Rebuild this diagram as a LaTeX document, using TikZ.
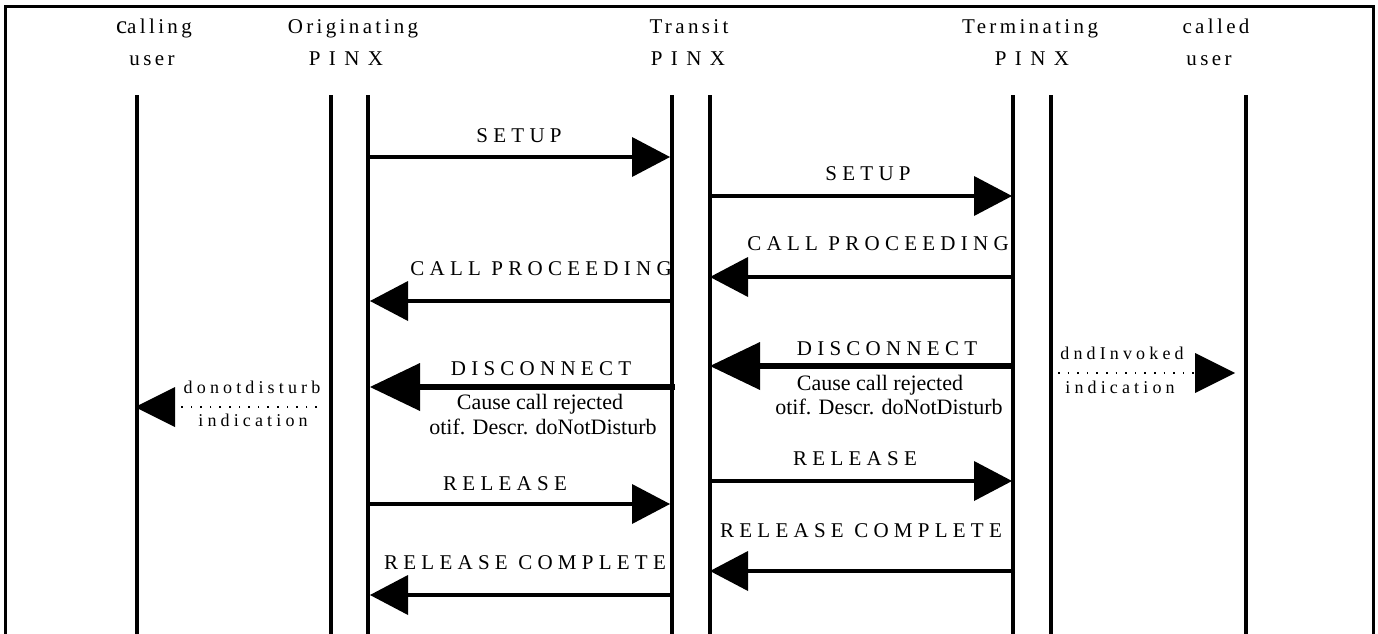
\documentclass[tikz,border=0pt]{standalone}
\usepackage{fontspec}
\setmainfont{Liberation Serif}
\newfontfamily\hdrfamily[LetterSpace=16]{Liberation Serif}
\newfontfamily\pinxfamily[LetterSpace=40]{Liberation Serif}
\newfontfamily\msgfamily[LetterSpace=25]{Liberation Serif}
\newfontfamily\smlfamily[LetterSpace=23]{Liberation Serif}
\usetikzlibrary{arrows.meta}
\begin{document}
\begin{tikzpicture}[x=1pt,y=-1pt,
  frame/.style={line width=3pt},
  life/.style={line width=4.5pt},
  msgline/.style={line width=4pt,-{Triangle[length=38pt,width=40pt,line width=0pt]}},
  discline/.style={line width=6.5pt,-{Triangle[length=50pt,width=48pt,line width=0pt]}},
  dotline/.style={line width=1.6pt,dash pattern=on 1.6pt off 8pt,-{Triangle[length=40pt,width=40pt,line width=0pt]}},
  hdr/.style={anchor=base,inner sep=0pt,font=\hdrfamily\fontsize{21}{21}\selectfont},
  pinx/.style={anchor=base,inner sep=0pt,font=\pinxfamily\fontsize{21}{21}\selectfont},
  msg/.style={anchor=base,inner sep=0pt,font=\msgfamily\fontsize{21}{21}\selectfont},
  note/.style={anchor=base,inner sep=0pt,font=\fontsize{22}{22}\selectfont},
  sml/.style={anchor=base,inner sep=0pt,font=\smlfamily\fontsize{18}{18}\selectfont}]
\useasboundingbox (0,0) rectangle (1378,634);
\fill[white] (0,0) rectangle (1378,634);
% frame
\draw[frame] (5,634) -- (5,7) -- (1373,7) -- (1373,634);
% headers
\node[hdr] (h1a) at (154,34) {{\fontsize{25}{25}\selectfont c}alling};
\node[hdr] (h1b) at (152,66) {user};
\node[hdr] (h2a) at (353,34) {Originating};
\node[pinx] (h2b) at (346,66) {PINX};
\node[hdr] (h3a) at (689,34) {Transit};
\node[pinx] (h3b) at (688,66) {PINX};
\node[hdr] (h4a) at (1030,34) {Terminating};
\node[pinx] (h4b) at (1032,66) {PINX};
\node[hdr] (h5a) at (1216,34) {called};
\node[hdr] (h5b) at (1209,66) {user};
% lifelines
\foreach \n/\x in {cu/137,oa/331,ob/368,ta/672,tb/710,ra/1013,rb/1051,du/1246}{
  \coordinate (\n top) at (\x,95);
  \coordinate (\n bot) at (\x,634);
  \draw[life] (\n top) -- (\n bot);
}
% message end points
\coordinate (m1s) at (368,157); \coordinate (m1e) at (670,157);
\coordinate (m2s) at (710,196); \coordinate (m2e) at (1012,196);
\coordinate (m3s) at (1015,277); \coordinate (m3e) at (710,277);
\coordinate (m4s) at (670,301); \coordinate (m4e) at (370,301);
\coordinate (m5s) at (1013,366); \coordinate (m5e) at (710,366);
\coordinate (m6s) at (675,387); \coordinate (m6e) at (370,387);
\coordinate (m7s) at (1058,373); \coordinate (m7e) at (1235,373);
\coordinate (m8s) at (317,407); \coordinate (m8e) at (135,407);
\coordinate (m9s) at (710,481); \coordinate (m9e) at (1012,481);
\coordinate (m10s) at (368,504); \coordinate (m10e) at (670,504);
\coordinate (m11s) at (1015,571); \coordinate (m11e) at (710,571);
\coordinate (m12s) at (670,595); \coordinate (m12e) at (370,595);
% connectors
\draw[msgline] (m1s) -- (m1e);
\draw[msgline] (m2s) -- (m2e);
\draw[msgline] (m3s) -- (m3e);
\draw[msgline] (m4s) -- (m4e);
\draw[discline] (m5s) -- (m5e);
\draw[discline] (m6s) -- (m6e);
\draw[dotline] (m7s) -- (m7e);
\draw[dotline] (m8s) -- (m8e);
\draw[msgline] (m9s) -- (m9e);
\draw[msgline] (m10s) -- (m10e);
\draw[msgline] (m11s) -- (m11e);
\draw[msgline] (m12s) -- (m12e);
% labels
\node[msg] (l1) at (519,142) {SETUP};
\node[msg] (l2) at (868,180) {SETUP};
\node[msg] (l3) at (878,250) {CALL PROCEEDING};
\node[msg] (l4) at (541,275) {CALL PROCEEDING};
\node[msg] (l5) at (887,355) {DISCONNECT};
\node[note] (l5b) at (880,390) {Cause call rejected};
\node[note] (l5c) at (889,414) {otif. Descr. doNotDisturb};
\node[msg] (l6) at (541,375) {DISCONNECT};
\node[note] (l6b) at (540,409) {Cause call rejected};
\node[note] (l6c) at (543,434) {otif. Descr. doNotDisturb};
\node[sml] (l7a) at (1122,359) {dndInvoked};
\node[sml] (l7b) at (1120,393) {indication};
\node[sml] (l8a) at (252,393) {donotdisturb};
\node[sml] (l8b) at (253,426) {indication};
\node[msg] (l9) at (855,465) {RELEASE};
\node[msg] (l10) at (505,490) {RELEASE};
\node[msg] (l11) at (861,537) {RELEASE COMPLETE};
\node[msg] (l12) at (525,569) {RELEASE COMPLETE};
\end{tikzpicture}
\end{document}
